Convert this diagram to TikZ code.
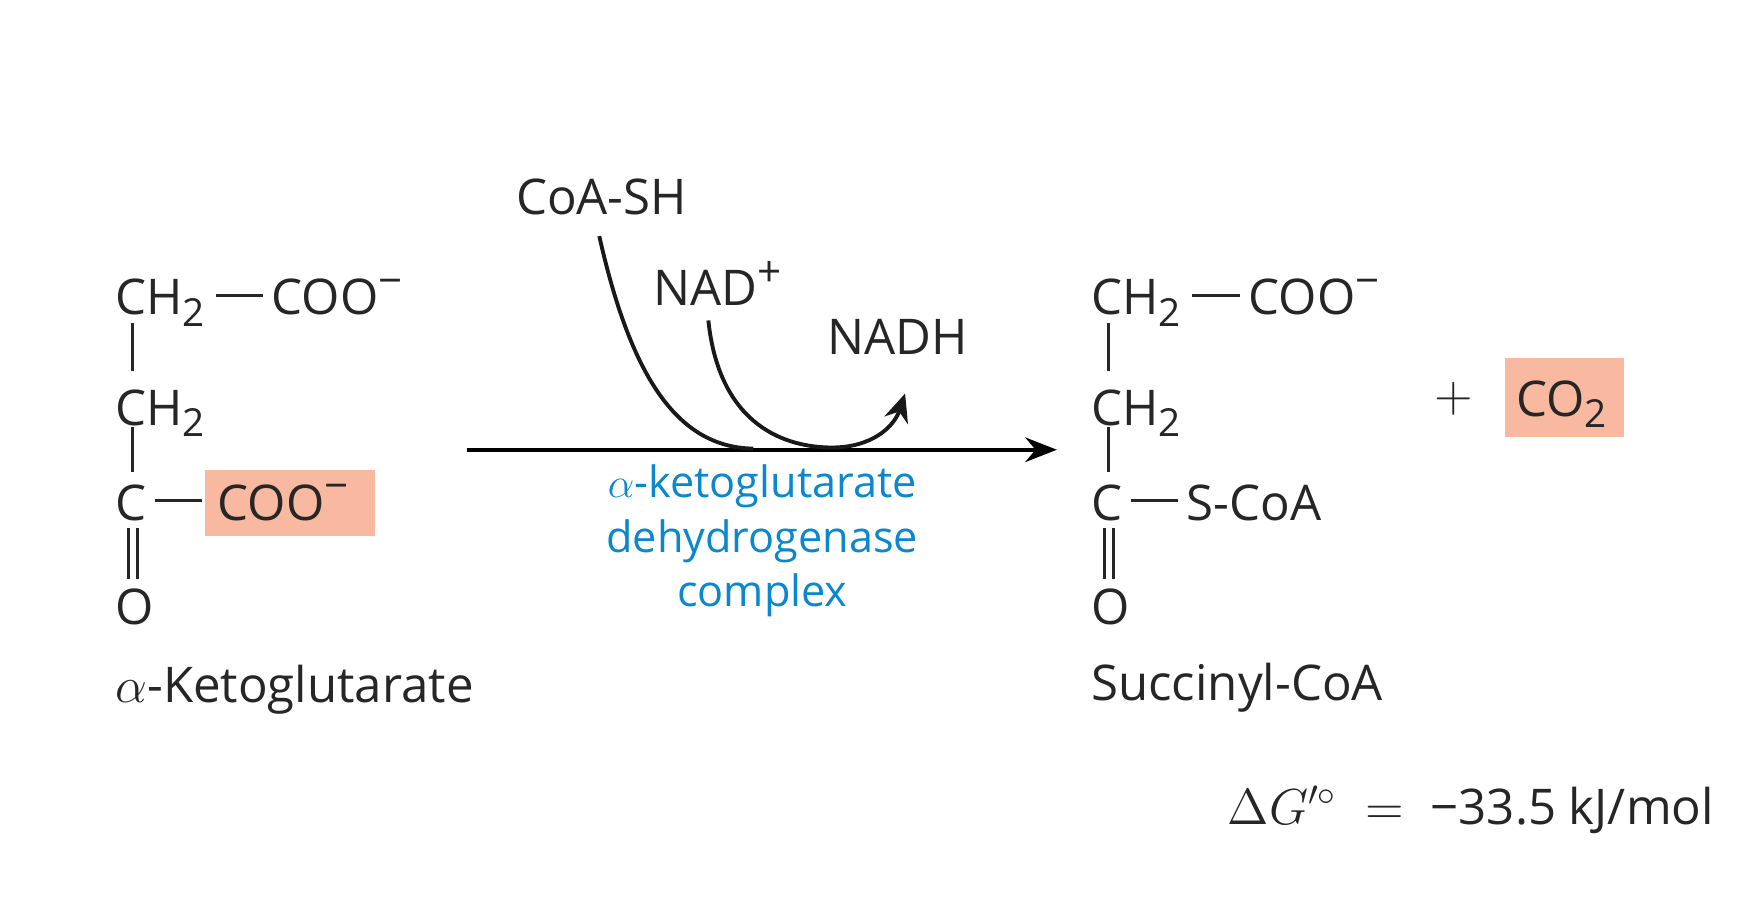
\documentclass[tikz,border=0pt]{standalone}
\usepackage{fontspec}
\setmainfont{Open Sans}
\usetikzlibrary{arrows.meta}
\definecolor{hl}{HTML}{F9B9A0}
\definecolor{enz}{HTML}{0A88CF}
\newcommand{\mysub}[1]{\raisebox{-0.45ex}{\fontsize{11}{12}\selectfont #1}}
\newcommand{\mysup}[1]{\raisebox{0.75ex}{\fontsize{12}{12}\selectfont #1}}
\tikzset{
  atom/.style={inner sep=0pt, font=\fontsize{14}{16}\selectfont, text=black!85},
  bond/.style={line width=0.9pt, black!85},
  hbox/.style={fill=hl, minimum width=1.7cm, minimum height=0.65cm, inner sep=0pt},
  curve/.style={line width=1.1pt, black!90}
}
\begin{document}
\begin{tikzpicture}[x=0.01124cm,y=-0.01124cm]
\useasboundingbox (0,0) rectangle (1560,818.5);
% left molecule
\node[hbox, minimum width=1.70cm, minimum height=0.66cm, anchor=north west] (h1) at (182,417) {};
\node[atom, anchor=base west] (a1) at (102,280) {CH\mysub{2}};
\node[atom, anchor=base west] (a1r) at (241,280) {COO\mysup{−}};
\node[atom, anchor=base west] (a2) at (102,378) {CH\mysub{2}};
\node[atom, anchor=base west] (a3) at (102,463) {C};
\node[atom, anchor=base west] (a3r) at (193,463) {COO\mysup{−}};
\node[atom, anchor=base west] (a4) at (102,555) {O};
\draw[bond] (192,263) -- (234,263);
\draw[bond] (118,287) -- (118,330);
\draw[bond] (118,380) -- (118,420);
\draw[bond] (138,445) -- (180,445);
\draw[bond] (114,470) -- (114,515);
\draw[bond] (122,470) -- (122,515);
\node[atom, anchor=base west] (l1) at (102,625) {$\alpha$-Ketoglutarate};
% arrow
\coordinate (s) at (415,400);
\coordinate (e) at (940,400);
\draw[line width=1.1pt, -{Stealth[length=9pt,width=7pt]}] (s) -- (e);
\node[atom] (coa) at (535,175) {CoA-SH};
\node[atom] (nad) at (638,252) {NAD\mysup{+}};
\node[atom] (nadh) at (798,300) {NADH};
\draw[curve] (533,210) .. controls (560,330) and (600,398) .. (670,399);
\draw[curve, -{Stealth[length=8pt,width=7pt]}] (630,285) .. controls (640,380) and (700,398) .. (740,398) .. controls (775,398) and (795,380) .. (805,350);
\node[atom, text=enz, align=center, font=\fontsize{12.3}{15.4}\selectfont] (enzy) at (678,481) {$\alpha$-ketoglutarate\\dehydrogenase\\complex};
% right molecule
\node[atom, anchor=base west] (b1) at (970,280) {CH\mysub{2}};
\node[atom, anchor=base west] (b1r) at (1110,280) {COO\mysup{−}};
\node[atom, anchor=base west] (b2) at (970,378) {CH\mysub{2}};
\node[atom, anchor=base west] (b3) at (970,463) {C};
\node[atom, anchor=base west] (b3r) at (1055,463) {S-CoA};
\node[atom, anchor=base west] (b4) at (970,555) {O};
\draw[bond] (1060,263) -- (1103,263);
\draw[bond] (986,287) -- (986,330);
\draw[bond] (986,380) -- (986,420);
\draw[bond] (1006,445) -- (1048,445);
\draw[bond] (982,470) -- (982,515);
\draw[bond] (990,470) -- (990,515);
\node[atom, anchor=base west] (l2) at (970,623) {Succinyl-CoA};
\node[atom] (plus) at (1293,355) {$+$};
\node[hbox, minimum width=1.19cm, minimum height=0.79cm, anchor=north west] (h2) at (1338,318) {};
\node[atom, anchor=base west] (co2) at (1348,370) {CO\mysub{2}};
\node[atom, anchor=base east] (dg) at (1525,733) {$\Delta G'^{\circ} \;=\;$ −33.5 kJ/mol};
\end{tikzpicture}
\end{document}
